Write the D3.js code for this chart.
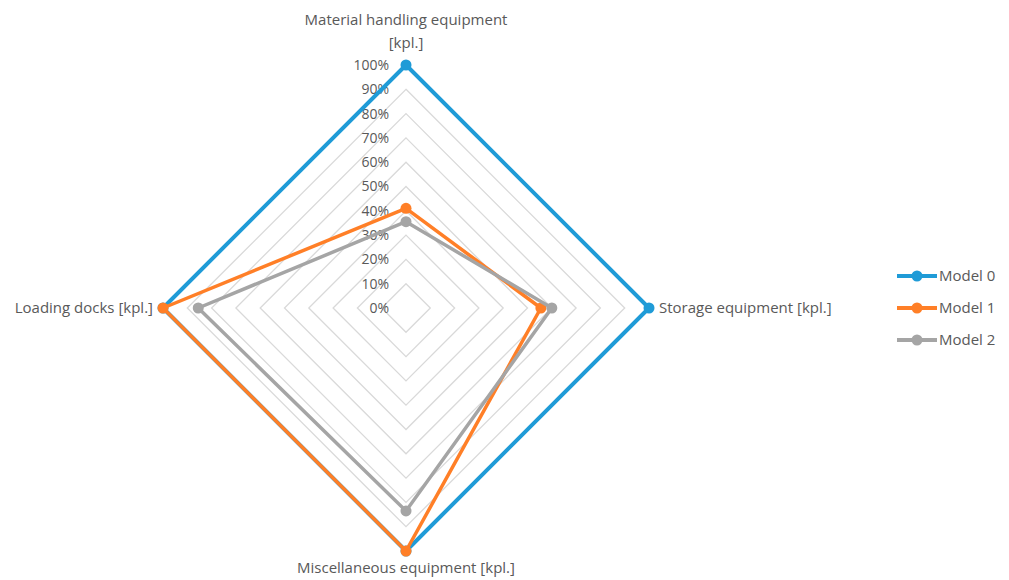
<!DOCTYPE html>
<html>
<head>
<meta charset="utf-8">
<script src="https://cdn.jsdelivr.net/npm/d3@7"></script>
<style>
  body { margin: 0; background: #fff; }
  text { font-family: "Open Sans", "Noto Sans", sans-serif; fill: #595959; }
</style>
</head>
<body>
<div id="radar"></div>
<script>
let width = 1009, height = 580;
let cx = 406, cy = 308, radius = 243;

// data
let axes = ["Material handling equipment [kpl.]", "Storage equipment [kpl.]", "Miscellaneous equipment [kpl.]", "Loading docks [kpl.]"];
let seriesNames = ["Model 0", "Model 1", "Model 2"];
let model0 = [1.00, 1.00, 1.00, 1.00];
let model1 = [0.41, 0.555, 1.00, 1.00];
let model2 = [0.355, 0.60, 0.835, 0.855];
let ticks = [0, 0.1, 0.2, 0.3, 0.4, 0.5, 0.6, 0.7, 0.8, 0.9, 1.0];
let colors = ["#1f9bd7", "#ff7f27", "#a5a5a5"];
let allSeries = [model0, model1, model2];

let r = d3.scaleLinear().domain([0, 1]).range([0, radius]);
let angle = d3.scalePoint().domain(d3.range(axes.length + 1)).range([0, 2 * Math.PI]);

function pt(i, v) {
    let a = angle(i) - Math.PI / 2;
    return [cx + r(v) * Math.cos(a), cy + r(v) * Math.sin(a)];
}

let svg = d3.select("#radar").append("svg")
    .attr("width", width).attr("height", height);

// grid rings
svg.append("g").selectAll("polygon")
    .data(ticks.slice(1))
    .join("polygon")
    .attr("points", t => axes.map((_, i) => pt(i, t).join(",")).join(" "))
    .attr("fill", "none")
    .attr("stroke", "#d9d9d9")
    .attr("stroke-width", 1.3);

// tick labels
svg.append("g").selectAll("text")
    .data(ticks)
    .join("text")
    .attr("x", cx - 17)
    .attr("y", t => cy - r(t))
    .attr("dy", "0.35em")
    .attr("text-anchor", "end")
    .style("font-size", "14px")
    .text(t => d3.format(".0%")(t));

// series
let line = d3.line();
allSeries.forEach((s, k) => {
    let g = svg.append("g");
    let pts = s.map((v, i) => pt(i, v));
    g.append("path")
        .attr("d", line(pts) + "Z")
        .attr("fill", "none")
        .attr("stroke", colors[k])
        .attr("stroke-width", k == 0 ? 4 : 3.5)
        .attr("stroke-linejoin", "round");
    g.selectAll("circle")
        .data(pts)
        .join("circle")
        .attr("cx", d => d[0]).attr("cy", d => d[1])
        .attr("r", 5.5)
        .attr("fill", colors[k]);
});

// axis labels
let lab = svg.append("g").style("font-size", "15px");
lab.append("text").attr("x", cx).attr("y", 25).attr("text-anchor", "middle").text("Material handling equipment");
lab.append("text").attr("x", cx).attr("y", 48).attr("text-anchor", "middle").text("[kpl.]");
let rp = pt(1, 1);
lab.append("text").attr("x", rp[0] + 10).attr("y", rp[1]).attr("dy", "0.35em").text(axes[1]);
let bp = pt(2, 1);
lab.append("text").attr("x", bp[0]).attr("y", 573).attr("text-anchor", "middle").text(axes[2]);
let lp = pt(3, 1);
lab.append("text").attr("x", lp[0] - 10).attr("y", lp[1]).attr("dy", "0.35em").attr("text-anchor", "end").text(axes[3]);

// legend
let legend = svg.append("g").attr("transform", "translate(897,276)");
seriesNames.forEach((n, k) => {
    let row = legend.append("g").attr("transform", `translate(0,${k * 32})`);
    row.append("line").attr("x1", 0).attr("x2", 40).attr("y1", 0).attr("y2", 0)
        .attr("stroke", colors[k]).attr("stroke-width", 4);
    row.append("circle").attr("cx", 20).attr("cy", 0).attr("r", 5.5).attr("fill", colors[k]);
    row.append("text").attr("x", 42).attr("y", 0).attr("dy", "0.35em")
        .style("font-size", "15px").text(n);
});
</script>
</body>
</html>
